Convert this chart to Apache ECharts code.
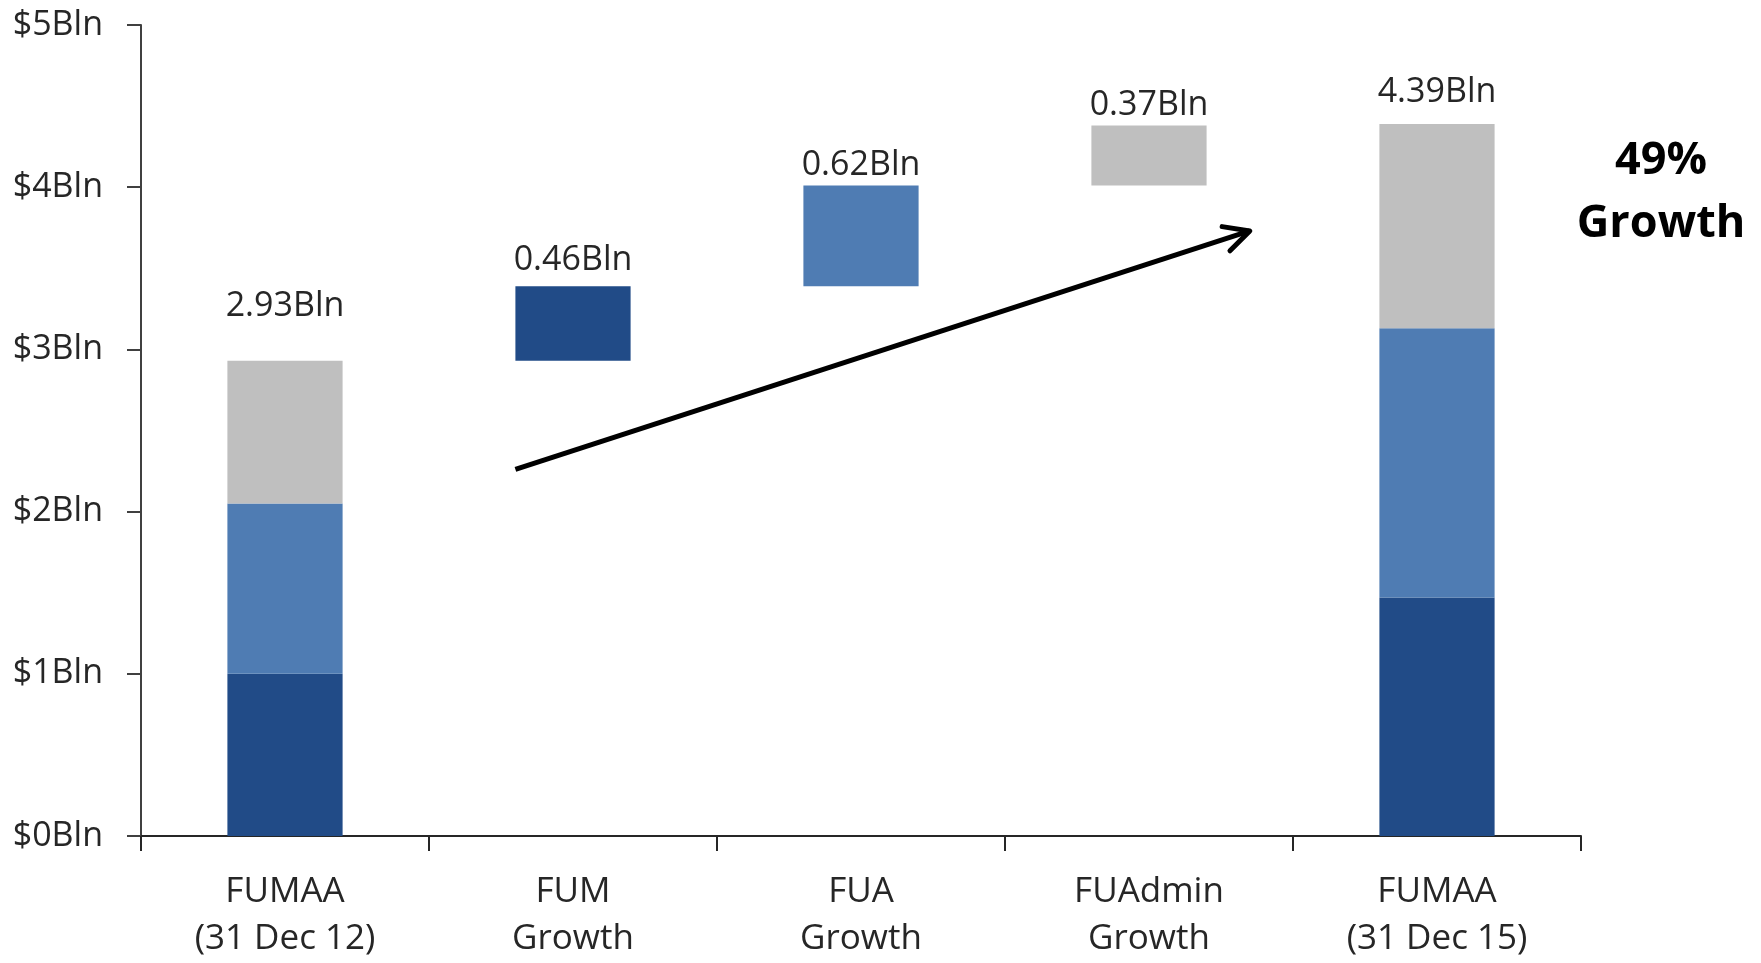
<!DOCTYPE html>
<html><head><meta charset="utf-8">
<script src="https://cdn.jsdelivr.net/npm/echarts@6/dist/echarts.min.js"></script>
<style>html,body{margin:0;padding:0;background:#fff}#chart{width:1761px;height:963px}</style>
</head><body><div id="chart"></div>
<script>
// ---- data ----
const categories = ['FUMAA\n(31 Dec 12)', 'FUM\nGrowth', 'FUA\nGrowth', 'FUAdmin\nGrowth', 'FUMAA\n(31 Dec 15)'];
const segmentNames = ['FUM', 'FUA', 'FUAdmin'];
const startValues = [1.00, 1.05, 0.88];   // FUMAA 31 Dec 12 by segment
const growthValues = [0.46, 0.62, 0.37];  // growth per segment
const endValues = [1.47, 1.66, 1.26];     // FUMAA 31 Dec 15 by segment
const yTickValues = [0, 1, 2, 3, 4, 5];
const annotationText = '49%\nGrowth';
const arrowFrom = [0.80, 2.26];  // [fractional category index, value]
const arrowTo = [3.35, 3.73];

// ---- style ----
const colors = ['#214B87', '#4F7CB3', '#BFBFBF'];
const labelGaps = [37, 9, 3, 3, 15];
const FONT = 'Open Sans';

const sum = a => a.reduce((s, v) => s + v, 0);
const r2 = v => Math.round(v * 100) / 100;
const startTotal = r2(sum(startValues));
const endTotal = r2(sum(endValues));
const bases = [0];
let run = startTotal;
growthValues.forEach(g => { bases.push(r2(run)); run += g; });
bases.push(0);
const topLabels = [startTotal, ...growthValues, endTotal].map(v => v.toFixed(2) + 'Bln');

function segData(i) {
  const out = [];
  for (let c = 0; c < categories.length; c++) {
    let v = '-';
    if (c === 0) v = startValues[i];
    else if (c === categories.length - 1) v = endValues[i];
    else if (c - 1 === i) v = growthValues[i];
    const isTop = (c === 0 || c === categories.length - 1) ? i === segmentNames.length - 1 : c - 1 === i;
    if (v === '-') { out.push('-'); continue; }
    out.push({
      value: v,
      label: isTop ? {
        show: true, position: 'top', distance: labelGaps[c],
        formatter: topLabels[c], fontFamily: FONT, fontSize: 34, color: '#262626'
      } : { show: false }
    });
  }
  return out;
}

const series = [{
  name: 'base', type: 'bar', stack: 'total', silent: true,
  itemStyle: { color: 'transparent' }, data: bases, barWidth: '40%'
}];
segmentNames.forEach((n, i) => series.push({
  name: n, type: 'bar', stack: 'total', barWidth: '40%',
  itemStyle: { color: colors[i] }, data: segData(i)
}));

const chart = echarts.init(document.getElementById('chart'), null, { renderer: 'canvas' });
const axisColor = '#404040';
chart.setOption({
  animation: false,
  backgroundColor: '#fff',
  grid: { left: 141, right: 180, top: 25, bottom: 123, containLabel: false },
  xAxis: {
    type: 'category', data: categories,
    axisLine: { lineStyle: { color: '#262626', width: 2 } },
    axisTick: { show: true, length: 15, lineStyle: { color: '#262626', width: 2 } },
    axisLabel: { fontFamily: FONT, fontSize: 35, color: '#262626', lineHeight: 47, margin: 33, interval: 0 }
  },
  yAxis: {
    type: 'value', min: yTickValues[0], max: yTickValues[yTickValues.length - 1], interval: 1,
    splitLine: { show: false },
    axisLine: { show: true, lineStyle: { color: axisColor, width: 2 } },
    axisTick: { show: true, length: 14, lineStyle: { color: axisColor, width: 2 } },
    axisLabel: { fontFamily: FONT, fontSize: 34, color: '#262626', margin: 38, formatter: v => '$' + v + 'Bln' }
  },
  series: series
});

// convert a [fractional category index, value] pair to pixels through the chart's scales
function toPixel(pt) {
  const i0 = Math.floor(pt[0]);
  const f = pt[0] - i0;
  const a = chart.convertToPixel({ gridIndex: 0 }, [i0, pt[1]]);
  const b = chart.convertToPixel({ gridIndex: 0 }, [i0 + 1, pt[1]]);
  return [a[0] + f * (b[0] - a[0]), a[1]];
}
const p0 = toPixel(arrowFrom);
const p1 = toPixel(arrowTo);
const ang = Math.atan2(p1[1] - p0[1], p1[0] - p0[0]);
const armLen = 28, armAng = 0.47;
const a1 = [p1[0] - armLen * Math.cos(ang - armAng), p1[1] - armLen * Math.sin(ang - armAng)];
const a2 = [p1[0] - armLen * Math.cos(ang + armAng), p1[1] - armLen * Math.sin(ang + armAng)];
chart.setOption({
  graphic: [
    { type: 'line', shape: { x1: p0[0], y1: p0[1], x2: p1[0], y2: p1[1] }, style: { stroke: '#000', lineWidth: 5, lineCap: 'butt' } },
    { type: 'polyline', shape: { points: [a1, p1, a2] }, style: { stroke: '#000', lineWidth: 5, fill: null, lineJoin: 'round', lineCap: 'round' } },
    { type: 'text', x: 1661, y: 193, style: { text: annotationText, fontFamily: FONT, fontWeight: 'bold', fontSize: 45, lineHeight: 63, fill: '#000', align: 'center', verticalAlign: 'middle' } }
  ]
});
</script></body></html>
